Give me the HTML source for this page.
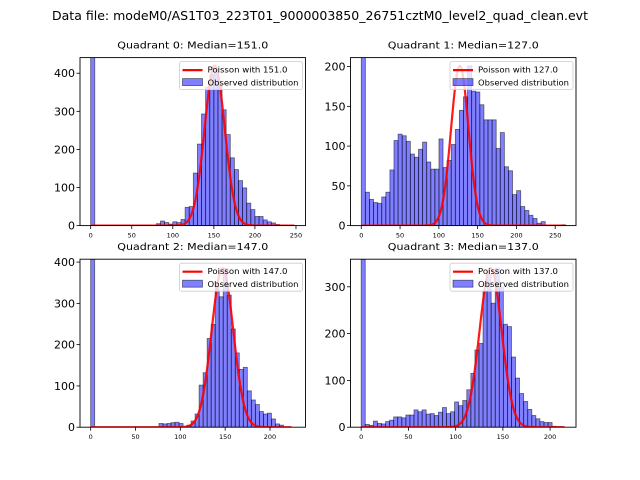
<!DOCTYPE html>
<html><head><meta charset="utf-8"><style>
html,body{margin:0;padding:0;background:#fff}
svg{display:block;font-family:"DejaVu Sans","Liberation Sans",sans-serif}
</style></head><body>
<svg id="fig" width="640" height="480" viewBox="0 0 640 480">
<rect width="640" height="480" fill="#fff"/>
<text x="320" y="20" text-anchor="middle" font-size="12" textLength="536" lengthAdjust="spacingAndGlyphs" fill="#000">Data file: modeM0/AS1T03_223T01_9000003850_26751cztM0_level2_quad_clean.evt</text>
</svg>
<script>
// Quadrant medians (Poisson lambda)
const lambdas = [151, 127, 147, 137];
// Poisson curve peak heights
const peaks = [420, 201, 385, 340];
// histogram bin widths
const binWidths = [5.0, 5.27, 4.48, 4.3];
// x-limit of curves
const curveMax = [248, 262, 224, 215];
// axis limits
const xlims = [[-13, 261.6], [-13.9, 276.8], [-11.9, 239.6], [-11.3, 227.4]];
const ylims = [[0, 441], [0, 211.3], [0, 407], [0, 359]];
const yTicks = [[0,100,200,300,400],[0,50,100,150,200],[0,100,200,300,400],[0,100,200,300]];
const xTicks = [[0,50,100,150,200,250],[0,50,100,150,200,250],[0,50,100,150,200],[0,50,100,150,200]];
// histogram counts
const counts0 = [1500,0,0,0,0,0,0,0,0,0,0,0,0,0,0,0,5,12,8,4,10,8,16,48,50,138,214,293,363,395,410,370,304,239,178,147,118,99,59,42,24,24,15,10,7,3,0,0,0,0];
const counts1 = [1500,42,33,29,28,36,42,70,107,115,113,106,90,86,96,105,80,71,71,109,73,82,102,121,145,162,201,169,168,152,133,133,133,97,117,74,69,39,44,24,19,13,9,3,5,0,0,0,0,1];
const counts2 = [1500,0,0,0,0,0,0,0,0,0,0,0,0,0,0,0,0,9,8,9,11,12,9,0,5,15,32,102,132,215,249,340,316,385,320,238,180,140,145,88,66,55,38,32,34,20,8,5,0,0];
const counts3 = [1500,6,4,13,8,7,12,15,22,22,20,26,26,37,33,37,28,29,25,32,42,29,33,54,46,57,80,115,165,179,290,326,265,340,300,220,215,150,105,72,55,38,25,18,12,10,10,2,1,1];
const allCounts = [counts0, counts1, counts2, counts3];

const NS = "http://www.w3.org/2000/svg";
const svg = document.getElementById('fig');
function mk(tag, attrs, parent){const e=document.createElementNS(NS,tag);for(const k in attrs)e.setAttribute(k,attrs[k]);(parent||svg).appendChild(e);return e;}
const boxes = [[80,57.6,305.5,225.6],[350.5,57.6,576,225.6],[80,259.2,305.5,427.2],[350.5,259.2,576,427.2]];

for(let q=0;q<4;q++){
  const [L,T,R,B]=boxes[q];
  const xs=v=>L+(v-xlims[q][0])/(xlims[q][1]-xlims[q][0])*(R-L);
  const ys=v=>B-(v-ylims[q][0])/(ylims[q][1]-ylims[q][0])*(B-T);
  const g=mk('g',{});
  
  
  const cid='clip'+q;
  const cp=mk('clipPath',{id:cid},g); mk('rect',{x:L,y:T,width:R-L,height:B-T},cp);
  const plot=mk('g',{'clip-path':'url(#'+cid+')'},g);
  const c=allCounts[q], w=binWidths[q];
  c.forEach((n,i)=>{
    if(n<=0) return;
    const x0=xs(i*w), x1=xs((i+1)*w), y=ys(n);
    const r=mk('rect',{x:x0,y:y,width:x1-x0,height:ys(0)-y,fill:'rgba(0,0,255,0.5)',stroke:'rgba(0,0,0,0.55)','stroke-width':0.8},plot);
    
    
  });
  const lam=lambdas[q], sd=Math.sqrt(lam);
  let d='';
  for(let v=0; v<=curveMax[q]; v+=0.5){
    const val=peaks[q]*Math.exp(-0.5*((v-lam)/sd)**2);
    d+=(v===0?'M':'L')+xs(v).toFixed(2)+','+ys(val).toFixed(2);
  }
  const cur=mk('path',{d:d,fill:'none',stroke:'rgba(255,0,0,0.9)','stroke-width':2.2},plot);
  
  
  const fr=mk('rect',{x:L,y:T,width:R-L,height:B-T,fill:'none',stroke:'#000','stroke-width':0.9},g);
  
  
  yTicks[q].forEach(t=>{
    const y=ys(t);
    mk('line',{x1:L-3.5,x2:L,y1:y,y2:y,stroke:'#000','stroke-width':0.8},g);
    const tx=mk('text',{x:L-5,y:y+4,'text-anchor':'end','font-size':11,fill:'#000'},g);
    tx.textContent=t;
    
    
  });
  xTicks[q].forEach(t=>{
    const x=xs(t);
    mk('line',{x1:x,x2:x,y1:B,y2:B+3.5,stroke:'#000','stroke-width':0.8},g);
    const tx=mk('text',{x:x,y:B+12,'text-anchor':'middle','font-size':6.5,fill:'#000'},g);
    tx.textContent=t;
    
    
  });
  const ti=mk('text',{x:(L+R)/2,y:T-9,'text-anchor':'middle','font-size':10,textLength:151,lengthAdjust:'spacingAndGlyphs',fill:'#000'},g);
  ti.textContent='Quadrant '+q+': Median='+lambdas[q].toFixed(1);
  
  
  // legend
  const lg=mk('g',{},g);
  
  
  const lx=R-126, ly=T+4;
  mk('rect',{x:lx,y:ly,width:123,height:28,rx:2,fill:'rgba(255,255,255,0.8)',stroke:'#ccc','stroke-width':0.8},lg);
  mk('line',{x1:lx+3,x2:lx+23,y1:ly+8.5,y2:ly+8.5,stroke:'red','stroke-width':2.2},lg);
  const t1=mk('text',{x:lx+28,y:ly+11,'font-size':8,textLength:80,lengthAdjust:'spacingAndGlyphs',fill:'#000'},lg);
  t1.textContent='Poisson with '+lambdas[q].toFixed(1);
  
  
  mk('rect',{x:lx+3,y:ly+17,width:20,height:7,fill:'rgba(0,0,255,0.5)',stroke:'rgba(0,0,0,0.55)','stroke-width':0.8},lg);
  const t2=mk('text',{x:lx+28,y:ly+24,'font-size':8,textLength:91,lengthAdjust:'spacingAndGlyphs',fill:'#000'},lg);
  t2.textContent='Observed distribution';
  
  
}
</script>
</body></html>
